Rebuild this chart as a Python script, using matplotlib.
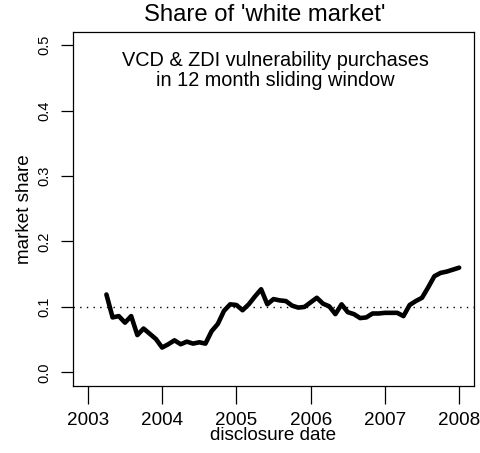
import matplotlib
matplotlib.use('Agg')

import pandas as pd
import matplotlib.pyplot as plt

plt.rcParams['font.family'] = ['Liberation Sans', 'DejaVu Sans']

# monthly points, Apr 2003 .. Jan 2008
months = pd.date_range('2003-04', '2008-01', freq='MS')
share = [0.119, 0.084, 0.086, 0.076, 0.086, 0.057, 0.067, 0.059, 0.051, 0.038,
         0.043, 0.049, 0.043, 0.047, 0.044, 0.046, 0.044, 0.063, 0.074, 0.094,
         0.104, 0.103, 0.095, 0.104, 0.116, 0.127, 0.104, 0.112, 0.110, 0.109,
         0.102, 0.099, 0.100, 0.107, 0.114, 0.105, 0.101, 0.089, 0.104, 0.092,
         0.089, 0.083, 0.084, 0.090, 0.090, 0.091, 0.091, 0.091, 0.086, 0.103,
         0.109, 0.114, 0.130, 0.147, 0.152, 0.154, 0.157, 0.160]
years = [2003, 2004, 2005, 2006, 2007, 2008]
yticks = [0.0, 0.1, 0.2, 0.3, 0.4, 0.5]
reference = 0.1

x = months.year + (months.month - 1) / 12.0

W, H = 481, 453
fig = plt.figure(figsize=(W / 100, H / 100), dpi=100)
ax = fig.add_axes([73 / W, 1 - 385.5 / H, 401 / W, 353.5 / H])

ax.plot(x, share, color='black', lw=3.3, solid_capstyle='round',
        solid_joinstyle='round')
ax.axhline(reference, color='black', lw=1.0, linestyle=(0, (1, 3.8)))

ax.set_xlim(2002.8, 2008.2)
ax.set_ylim(-0.02, 0.52)
ax.set_xticks(years)
ax.set_xticklabels([str(y) for y in years])
ax.set_yticks(yticks)
ax.set_yticklabels(['%.1f' % v for v in yticks], rotation=90, va='center')

for s in ax.spines.values():
    s.set_linewidth(0.9)
ax.tick_params(axis='x', length=13, width=0.9, pad=6, labelsize=13.6)
ax.tick_params(axis='y', length=8.4, width=0.9, pad=7.5, labelsize=10.5)

ax.set_xlabel('disclosure date', fontsize=13.6, labelpad=-1)
ax.set_ylabel('market share', fontsize=13.6, labelpad=3)

ax.text(2005.525, 0.4684, 'VCD & ZDI vulnerability purchases',
        ha='center', va='baseline', fontsize=14.3)
ax.text(2005.525, 0.4374, 'in 12 month sliding window',
        ha='center', va='baseline', fontsize=14.3)

fig.text(265 / W, 1 - 20.7 / H, "Share of 'white market'",
         ha='center', va='baseline', fontsize=17.2)

fig.savefig('out.png', dpi=100)
